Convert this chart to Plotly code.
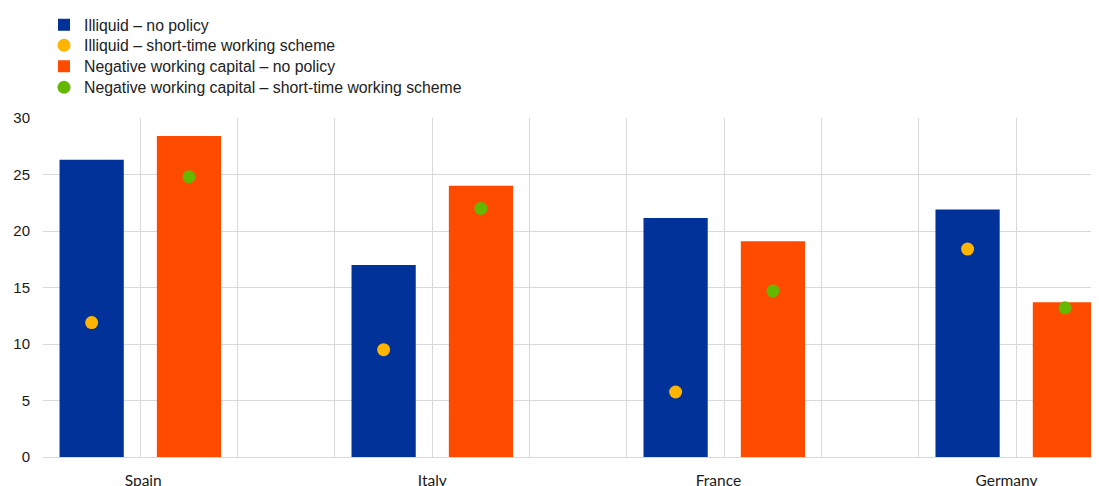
import plotly.graph_objects as go

countries = ["Spain", "Italy", "France", "Germany"]
illiquid_no_policy = [26.3, 17.0, 21.15, 21.9]
illiquid_stw = [11.9, 9.5, 5.75, 18.4]
nwc_no_policy = [28.4, 24.0, 19.1, 13.7]
nwc_stw = [24.8, 22.0, 14.7, 13.2]

names = [
    "Illiquid – no policy",
    "Illiquid – short-time working scheme",
    "Negative working capital – no policy",
    "Negative working capital – short-time working scheme",
]
colors = ["#003299", "#FFB400", "#FF4B00", "#65B800"]

# each country occupies 3 slots: blue bar, orange bar, empty
x_blue = [3 * i for i in range(len(countries))]
x_orange = [3 * i + 1 for i in range(len(countries))]
label_shift = [0.03, 0.0, -0.06, -0.1]
x_label = [3 * i + 0.5 + label_shift[i] for i in range(len(countries))]

# page body has an 8px offset: work in figure pixels
OFF = 8
W, H = 1099, 486

fig = go.Figure()
fig.add_trace(go.Bar(x=x_blue, y=illiquid_no_policy, name=names[0], legend="legend",
                     marker=dict(color=colors[0], line=dict(width=0)), width=0.66))
fig.add_trace(go.Scatter(x=x_blue, y=illiquid_stw, name=names[1], mode="markers",
                         legend="legend2", marker=dict(color=colors[1], size=13)))
fig.add_trace(go.Bar(x=x_orange, y=nwc_no_policy, name=names[2], legend="legend3",
                     marker=dict(color=colors[2], line=dict(width=0)), width=0.66))
fig.add_trace(go.Scatter(x=x_orange, y=nwc_stw, name=names[3], mode="markers",
                         legend="legend4", marker=dict(color=colors[3], size=13)))

row_centers = [25, 45.5, 66.5, 87.5]  # screen px
legend_common = dict(xref="container", yref="container", xanchor="left", yanchor="middle",
                     font=dict(size=15.8, color="#222222"), bgcolor="rgba(0,0,0,0)")
legends = {}
for k, c in enumerate(row_centers):
    key = "legend" if k == 0 else f"legend{k+1}"
    legends[key] = dict(legend_common, x=(44 - OFF) / W, y=1 - (c - OFF) / H)

fig.update_layout(
    width=W, height=H,
    margin=dict(l=43 - OFF, r=1 + OFF, t=118 - OFF, b=H - (457 - OFF), autoexpand=False),
    plot_bgcolor="white", paper_bgcolor="white",
    barmode="overlay",
    font=dict(family="Liberation Sans, Arial", size=15, color="#000000"),
    showlegend=True,
    **legends,
)
fig.update_xaxes(
    range=[-0.5, 10.34], automargin=False,
    tickmode="array", tickvals=x_label, ticktext=countries,
    showgrid=False,
    minor=dict(tick0=0.5, dtick=1, showgrid=True, gridcolor="#d9d9d9", gridwidth=1),
    ticks="", showline=False, zeroline=False,
    tickfont=dict(family="Lato, Open Sans", size=15.5, color="#1a1a1a"),
    ticklabelstandoff=12,
)
fig.update_yaxes(
    range=[0, 30], tickmode="linear", tick0=0, dtick=5, automargin=False,
    showgrid=True, gridcolor="#d9d9d9", gridwidth=1,
    zeroline=True, zerolinecolor="#d9d9d9", zerolinewidth=1,
    showline=False, ticks="",
    tickfont=dict(size=15, color="#1a1a1a"),
    ticklabelstandoff=12,
)

fig.write_html("out.html")
